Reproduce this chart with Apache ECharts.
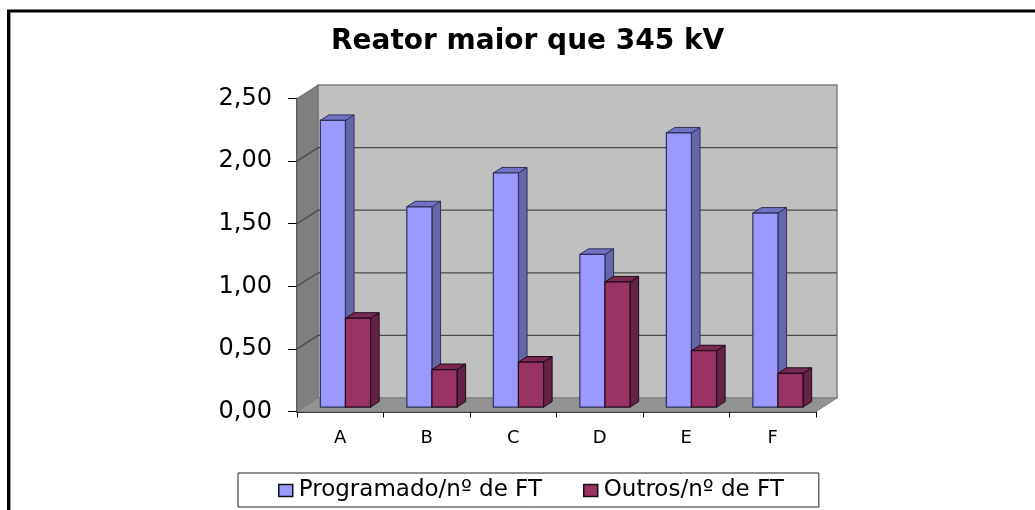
<!DOCTYPE html>
<html><head><meta charset="utf-8">
<style>html,body{margin:0;padding:0;background:#fff}#c{width:1035px;height:510px}</style>
<script src="https://cdn.jsdelivr.net/npm/echarts@6/dist/echarts.min.js"></script>
</head><body><div id="c"></div>
<script>
const categories = ['A','B','C','D','E','F'];
const programado = [2.29,1.60,1.87,1.22,2.19,1.55];
const outros = [0.71,0.30,0.36,1.00,0.45,0.27];
const yTicks = [0,0.5,1,1.5,2,2.5];
const seriesNames = ['Programado/nº de FT','Outros/nº de FT'];
const titleText = 'Reator maior que 345 kV';
const FONT = 'DejaVu Sans';
const wall = {dx:21,dy:-13.5}, barDepth = {dx:8.6,dy:-5.5}, barShift = {dx:5.2,dy:-4.4};

function poly(points, fill, stroke, lw){
  return {type:'polygon',shape:{points},style:{fill,stroke:stroke||fill,lineWidth:lw==null?1:lw}};
}
function renderBack(params, api){
  const cs = params.coordSys;
  const y = api.coord([0, api.value(1)])[1];
  const L = cs.x, R = cs.x+cs.width, T = cs.y, B = cs.y+cs.height;
  const children = [];
  if (params.dataIndex === 0){
    children.push(poly([[L+wall.dx,T+wall.dy],[R+wall.dx,T+wall.dy],[R+wall.dx,B+wall.dy],[L+wall.dx,B+wall.dy]],'#c0c0c0','#808080',1.5));
    children.push(poly([[L,T],[L+wall.dx,T+wall.dy],[L+wall.dx,B+wall.dy],[L,B]],'#7f7f7f','#707070',1));
    children.push(poly([[L,B],[L+wall.dx,B+wall.dy],[R+wall.dx,B+wall.dy],[R,B]],'#929292','#808080',1));
  }
  if (api.value(1) > 0 && api.value(1) < 2.5){
    children.push({type:'polyline',shape:{points:[[L,y],[L+wall.dx,y+wall.dy],[R+wall.dx,y+wall.dy]]},style:{fill:'none',stroke:'#4a4a4a',lineWidth:1.3}});
  }
  return {type:'group',children};
}
function barRenderer(front, side, top, edge, idx){
  return function(params, api){
    const c = api.value(0), top0 = api.coord([c, api.value(1)]), base = api.coord([c, 0]);
    const w = api.size([1,0])[0]*0.29;
    const x0 = top0[0]+barShift.dx+(idx===0?-w:0), x1 = x0+w;
    const yt = top0[1]+barShift.dy, yb = base[1]+barShift.dy;
    const d = barDepth;
    return {type:'group',children:[
      poly([[x1,yt],[x1+d.dx,yt+d.dy],[x1+d.dx,yb+d.dy],[x1,yb]],side,edge,1),
      poly([[x0,yt],[x0+d.dx,yt+d.dy],[x1+d.dx,yt+d.dy],[x1,yt]],top,edge,1),
      poly([[x0,yt],[x1,yt],[x1,yb],[x0,yb]],front,edge,1.2)
    ]};
  };
}
const chart = echarts.init(document.getElementById('c'),null,{renderer:'canvas'});
chart.setOption({
  animation:false,
  backgroundColor:'#fff',
  title:{text:titleText,left:331,top:28,padding:0,textStyle:{fontFamily:FONT,fontWeight:'bold',fontSize:28,color:'#000'}},
  grid:{left:297,top:98.5,width:519,height:313},
  xAxis:{type:'category',data:categories,boundaryGap:true,
    axisLine:{lineStyle:{color:'#000',width:1.5}},
    axisTick:{show:true,length:6,lineStyle:{color:'#000'}},
    axisLabel:{fontFamily:FONT,fontSize:18,color:'#000',margin:18},splitLine:{show:false}},
  yAxis:{type:'value',min:0,max:2.5,interval:0.5,
    axisLine:{show:true,lineStyle:{color:'#000',width:1.5}},
    axisTick:{show:true,length:9,lineStyle:{color:'#000'}},
    axisLabel:{fontFamily:FONT,fontSize:24,color:'#000',margin:25,formatter:v=>v.toFixed(2).replace('.',',')},
    splitLine:{show:false}},
  legend:{data:seriesNames.map(name=>({name,icon:'rect'})),left:238,top:473,padding:[6,35,5,40],itemGap:41,itemWidth:14,itemHeight:12,
    borderColor:'#222',borderWidth:1,backgroundColor:'#fff',
    itemStyle:{borderColor:'#111',borderWidth:1.5},
    textStyle:{fontFamily:FONT,fontSize:23,color:'#000',padding:[0,0,0,1]}},
  graphic:[
    {type:'polyline',silent:true,shape:{points:[[8.5,510],[8.5,11],[1035,11]]},style:{fill:'none',stroke:'#000',lineWidth:3}},
    {type:'line',silent:true,shape:{x1:10.5,y1:13,x2:10.5,y2:510},style:{stroke:'#999',lineWidth:1}}
  ],
  series:[
    {type:'custom',name:'fundo',silent:true,clip:false,z:1,data:yTicks.map(t=>[0,t]),renderItem:renderBack,encode:{x:0,y:1}},
    {type:'custom',name:seriesNames[0],clip:false,z:2,itemStyle:{color:'#9999ff'},data:programado.map((v,i)=>[i,v]),renderItem:barRenderer('#9999ff','#6666aa','#7272c4','#30305a',0),encode:{x:0,y:1}},
    {type:'custom',name:seriesNames[1],clip:false,z:3,itemStyle:{color:'#993366'},data:outros.map((v,i)=>[i,v]),renderItem:barRenderer('#993366','#662244','#7a2952','#1f0a18',1),encode:{x:0,y:1}}
  ]
});
</script></body></html>
